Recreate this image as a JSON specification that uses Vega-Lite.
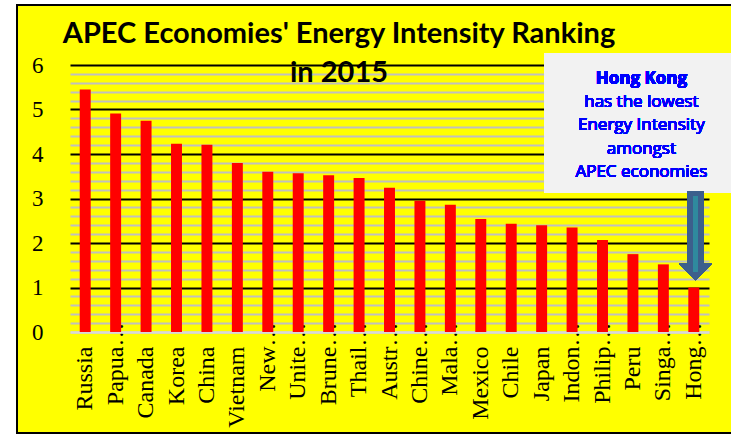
{
  "$schema": "https://vega.github.io/schema/vega-lite/v6.json",
  "autosize": "none",
  "width": 716,
  "height": 428,
  "padding": {"left": 17, "top": 5, "right": -2, "bottom": 1},
  "background": "#ffffff",
  "config": {
    "view": {"fill": "#ffff00", "stroke": "#000000", "strokeWidth": 2}
  },
  "title": {
    "text": ["APEC Economies' Energy Intensity Ranking", "in 2015"],
    "font": "Lato",
    "fontSize": 29,
    "fontWeight": "bold",
    "color": "#000000",
    "anchor": "middle",
    "frame": "group",
    "baseline": "alphabetic",
    "lineHeight": 39,
    "offset": 0,
    "dx": -36,
    "dy": 106
  },
  "data": {
    "values": [
      {"economy": "Russia", "label": "Russia", "value": 5.45},
      {"economy": "Papua New Guinea", "label": "Papua…", "value": 4.91},
      {"economy": "Canada", "label": "Canada", "value": 4.75},
      {"economy": "Korea", "label": "Korea", "value": 4.23},
      {"economy": "China", "label": "China", "value": 4.21},
      {"economy": "Vietnam", "label": "Vietnam", "value": 3.8},
      {"economy": "New Zealand", "label": "New…", "value": 3.6},
      {"economy": "United States", "label": "Unite…", "value": 3.57},
      {"economy": "Brunei Darussalam", "label": "Brune…", "value": 3.52},
      {"economy": "Thailand", "label": "Thail…", "value": 3.46},
      {"economy": "Australia", "label": "Austr…", "value": 3.24},
      {"economy": "Chinese Taipei", "label": "Chine…", "value": 2.95},
      {"economy": "Malaysia", "label": "Mala…", "value": 2.86},
      {"economy": "Mexico", "label": "Mexico", "value": 2.54},
      {"economy": "Chile", "label": "Chile", "value": 2.43},
      {"economy": "Japan", "label": "Japan", "value": 2.4},
      {"economy": "Indonesia", "label": "Indon…", "value": 2.35},
      {"economy": "Philippines", "label": "Philip…", "value": 2.07},
      {"economy": "Peru", "label": "Peru", "value": 1.75},
      {"economy": "Singapore", "label": "Singa…", "value": 1.52},
      {"economy": "Hong Kong", "label": "Hong…", "value": 1.0}
    ]
  },
  "layer": [
    {
      "mark": {"type": "bar", "color": "#ff0000"},
      "encoding": {
        "x": {
          "field": "label",
          "type": "nominal",
          "sort": null,
          "scale": {"range": [53, 692], "paddingInner": 0.64, "paddingOuter": 0.32},
          "axis": {
            "title": null,
            "orient": "bottom",
            "offset": -101,
            "ticks": false,
            "domain": true,
            "domainColor": "#d9d9d9",
            "domainWidth": 2.5,
            "labelAngle": 270,
            "labelAlign": "right",
            "labelBaseline": "middle",
            "labelFont": "Liberation Serif",
            "labelFontSize": 24,
            "labelColor": "#000000",
            "labelLimit": 300,
            "labelOverlap": false,
            "labelPadding": {"condition": {"test": "indexof(datum.label, '…') >= 0", "value": -10}, "value": 14}
          }
        },
        "y": {
          "field": "value",
          "type": "quantitative",
          "scale": {"domain": [0, 6], "range": [327, 60], "nice": false, "zero": true},
          "axis": {
            "title": null,
            "orient": "left",
            "offset": -53,
            "ticks": false,
            "domain": false,
            "tickCount": 100,
            "values": [0, 0.2, 0.4, 0.6, 0.8, 1, 1.2, 1.4, 1.6, 1.8, 2, 2.2, 2.4, 2.6, 2.8, 3, 3.2, 3.4, 3.6, 3.8, 4, 4.2, 4.4, 4.6, 4.8, 5, 5.2, 5.4, 5.6, 5.8, 6],
            "labelExpr": "datum.value % 1 === 0 ? datum.value : ''",
            "labelFont": "Liberation Serif",
            "labelFontSize": 23,
            "labelColor": "#000000",
            "labelPadding": 27,
            "labelOverlap": false,
            "grid": true,
            "gridWidth": 2,
            "gridOpacity": 1,
            "gridColor": {"condition": {"test": "datum.value % 1 === 0 && datum.value > 0", "value": "#000000"}, "value": "#c0c0c0"}
          }
        }
      }
    },
    {
      "mark": {"type": "rect", "color": "#f2f2f2", "xOffset": 8, "x2Offset": 40},
      "encoding": {
        "x": {"datum": "Japan", "bandPosition": 0},
        "x2": {"datum": "Hong…", "bandPosition": 1},
        "y": {"datum": 6.27, "type": "quantitative", "scale": {"domain": [0, 6], "nice": false}},
        "y2": {"datum": 3.124}
      }
    },
    {
      "mark": {"type": "text", "text": "Hong Kong", "font": "Open Sans", "fontSize": 17, "fontWeight": "bold", "color": "#0000ff", "align": "center", "baseline": "alphabetic", "dx": 8.4},
      "encoding": {
        "x": {"datum": "Peru"},
        "y": {"datum": 5.573, "type": "quantitative", "scale": {"domain": [0, 6], "nice": false}}
      }
    },
    {
      "mark": {"type": "text", "text": ["has the lowest", "Energy Intensity", "amongst", "APEC economies"], "lineHeight": 23.5, "font": "Open Sans", "fontSize": 17, "fontWeight": "normal", "color": "#0000ff", "align": "center", "baseline": "alphabetic", "dx": 8.4},
      "encoding": {
        "x": {"datum": "Peru"},
        "y": {"datum": 5.063, "type": "quantitative", "scale": {"domain": [0, 6], "nice": false}}
      }
    },
    {
      "mark": {"type": "rule", "color": "#3c5f8c", "strokeWidth": 15.6, "xOffset": 1.7},
      "encoding": {
        "x": {"datum": "Hong…"},
        "y": {"datum": 3.17, "type": "quantitative", "scale": {"domain": [0, 6], "nice": false}},
        "y2": {"datum": 1.5}
      }
    },
    {
      "mark": {"type": "point", "shape": "M-1,-0.5L1,-0.5L0,0.5Z", "size": 1089, "filled": true, "opacity": 1, "color": "#3c5f8c", "strokeWidth": 0, "xOffset": 1.7},
      "encoding": {
        "x": {"datum": "Hong…"},
        "y": {"datum": 1.348, "type": "quantitative", "scale": {"domain": [0, 6], "nice": false}}
      }
    },
    {
      "mark": {"type": "rule", "color": "#2f8a9e", "strokeWidth": 5, "xOffset": 1.7},
      "encoding": {
        "x": {"datum": "Hong…"},
        "y": {"datum": 3.056, "type": "quantitative", "scale": {"domain": [0, 6], "nice": false}},
        "y2": {"datum": 1.35}
      }
    }
  ]
}
